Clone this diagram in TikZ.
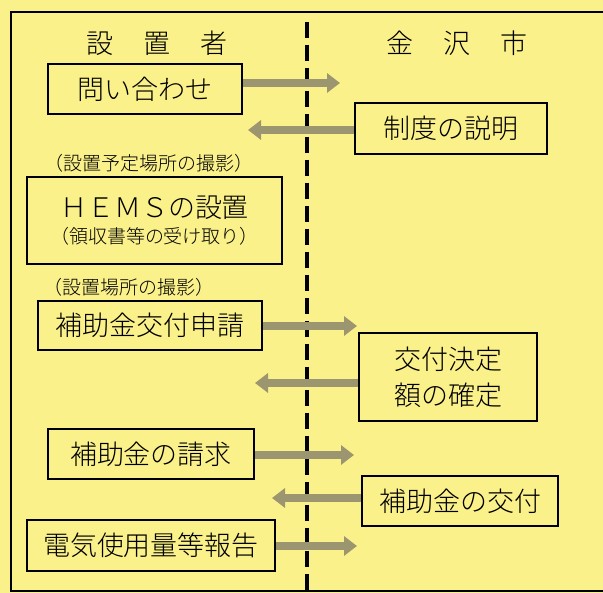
\documentclass[tikz,border=0pt]{standalone}
\usepackage{fontspec}
\setmainfont{Noto Sans CJK JP Light}
\usetikzlibrary{arrows.meta}
\definecolor{paper}{RGB}{251,241,139}
\definecolor{arrowgray}{RGB}{155,150,112}
\begin{document}
\begin{tikzpicture}[x=1pt, y=-1pt,
    every node/.style={font=\fontsize{27}{36}\selectfont},
    box/.style={draw=black, line width=1.6pt, inner sep=0pt, align=center},
    note/.style={font=\fontsize{19}{22}\selectfont, inner sep=0pt, anchor=west},
    flow/.style={draw=arrowgray, line width=8pt, -{Triangle[length=13pt,width=19pt]}}]
    \useasboundingbox (0,0) rectangle (603,593);
    \fill[paper] (0,0) rectangle (603,593);
    \clip (0,0) rectangle (603,593);
    \draw[line width=2pt] (11,12) rectangle (640,591);
    \draw[line width=3.5pt, dash pattern=on 16pt off 7pt] (307,22) -- (307,600);
    \node (setchisha) at (157,43) {設\hspace{30pt}置\hspace{30pt}者};
    \node (kanazawa) at (457,43) {金\hspace{30pt}沢\hspace{30pt}市};
    \node[box, minimum width=194pt, minimum height=50pt] (toiawase) at (145,89) {問い合わせ};
    \node[box, minimum width=192pt, minimum height=51pt] (setsumei) at (451,128.5) {制度の説明};
    \node[note] (yotei) at (44,163) {（設置予定場所の撮影）};
    \node[box, minimum width=255pt, minimum height=87pt] (hems) at (154.5,220.5)
        {ＨＥＭＳの設置\\[-10pt]{\fontsize{19}{22}\selectfont （領収書等の受け取り）}};
    \node[note] (basho) at (43,287) {（設置場所の撮影）};
    \node[box, minimum width=224pt, minimum height=49pt] (shinsei) at (150,325.5) {補助金交付申請};
    \node[box, minimum width=178pt, minimum height=88pt] (kettei) at (448,377) {交付決定\\額の確定};
    \node[box, minimum width=206pt, minimum height=50pt] (seikyu) at (151,454) {補助金の請求};
    \node[box, minimum width=196pt, minimum height=50pt] (kofu) at (460,501) {補助金の交付};
    \node[box, minimum width=248pt, minimum height=51pt] (houkoku) at (151,545.5) {電気使用量等報告};
    \coordinate (t1) at (340,83);
    \coordinate (t2) at (248,130);
    \coordinate (t3) at (357,326);
    \coordinate (t4) at (255,383);
    \coordinate (t5) at (354,455);
    \coordinate (t6) at (272,498);
    \coordinate (t7) at (357,546);
    \draw[flow] (toiawase.east |- t1) -- (t1);
    \draw[flow] (setsumei.west |- t2) -- (t2);
    \draw[flow] (shinsei.east |- t3) -- (t3);
    \draw[flow] (kettei.west |- t4) -- (t4);
    \draw[flow] (seikyu.east |- t5) -- (t5);
    \draw[flow] (kofu.west |- t6) -- (t6);
    \draw[flow] (houkoku.east |- t7) -- (t7);
\end{tikzpicture}
\end{document}
